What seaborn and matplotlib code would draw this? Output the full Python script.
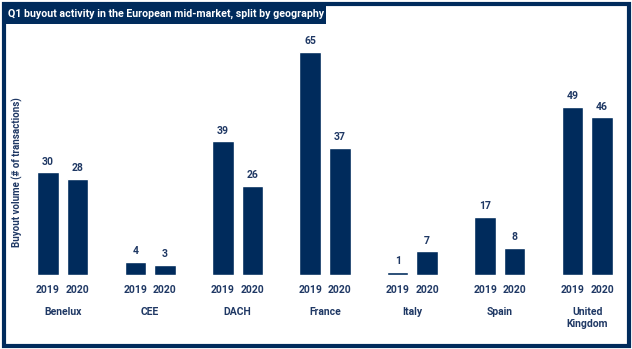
import matplotlib
matplotlib.use("Agg")
import matplotlib.pyplot as plt
import seaborn as sns
import pandas as pd
from matplotlib.patches import Rectangle

regions = ["Benelux", "CEE", "DACH", "France", "Italy", "Spain", "United\nKingdom"]
years = ["2019", "2020"]
values_2019 = [30, 4, 39, 65, 1, 17, 49]
values_2020 = [28, 3, 26, 37, 7, 8, 46]

title = "Q1 buyout activity in the European mid-market, split by geography"
ylabel = "Buyout volume (# of transactions)"

NAVY = "#002B5C"
TEXT = "#1F3864"

df = pd.DataFrame({
    "region": regions * 2,
    "year": [years[0]] * len(regions) + [years[1]] * len(regions),
    "value": values_2019 + values_2020,
})

sns.set_theme(style="white")
plt.rcParams["font.family"] = ["Roboto", "DejaVu Sans"]

fig = plt.figure(figsize=(6.32, 3.49), dpi=100)
W, H = 632, 349
ax = fig.add_axes([19 / W, (H - 275.3) / H, 612 / W, 240.8 / H])

sns.barplot(data=df, x="region", y="value", hue="year", order=regions,
            hue_order=years, palette=[NAVY, NAVY], width=0.675, gap=0.27,
            ax=ax, legend=False, saturation=1)

ax.set_ylim(0, 70)
ax.set_xlim(-0.5, 6.5)
for s in ax.spines.values():
    s.set_visible(False)
ax.set_yticks([])
ax.set_xlabel("")
ax.set_ylabel("")

tick_pos, tick_lab = [], []
for cont, yr in zip(ax.containers, years):
    ax.bar_label(cont, fmt="%d", padding=4, fontsize=7.5, fontweight="bold",
                 color=TEXT)
    for p in cont.patches:
        tick_pos.append(p.get_x() + p.get_width() / 2)
        tick_lab.append(yr)
ax.set_xticks(tick_pos, tick_lab)
ax.tick_params(axis="x", length=0, pad=7, labelsize=7.5, labelcolor=TEXT)
for t in ax.get_xticklabels():
    t.set_fontweight("bold")

trans = ax.get_xaxis_transform()
for i, r in enumerate(regions):
    ax.text(i, -0.13, r, transform=trans, ha="center", va="top",
            fontsize=7.5, fontweight="bold", color=TEXT, linespacing=1.25)

fig.text(17 / W, (H - 172) / H, ylabel, rotation=90, ha="center", va="center",
         fontsize=7, fontweight="bold", color=TEXT)

# outer frame
fig.patches.append(Rectangle((3.5 / W, 3.5 / H), (W - 7) / W, (H - 7) / H,
                             transform=fig.transFigure, fill=False,
                             edgecolor=NAVY, linewidth=3))
# title box
fig.patches.append(Rectangle((3 / W, (H - 24) / H), 323 / W, 21 / H,
                             transform=fig.transFigure, facecolor=NAVY,
                             edgecolor="none"))
t = fig.text(8 / W, (H - 13.5) / H, title, ha="left", va="center",
             fontsize=9, fontweight="bold", color="white")
fig.canvas.draw()
w = t.get_window_extent().width
t.set_fontsize(9 * 313 / w)

fig.savefig("out.png", dpi=100)
